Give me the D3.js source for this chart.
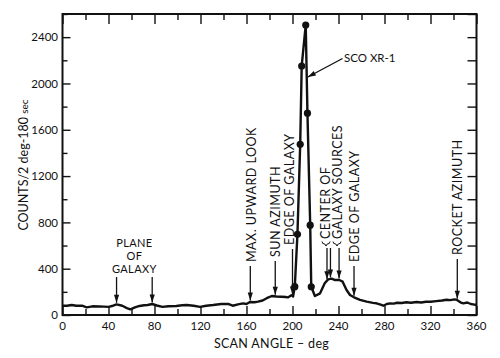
<!DOCTYPE html>
<html>
<head>
<meta charset="utf-8">
<script src="https://cdn.jsdelivr.net/npm/d3@7"></script>
<style>
  html, body { margin: 0; padding: 0; background: #fff; }
  svg { display: block; }
  text { font-family: Lato, "Noto Sans", sans-serif; fill: #111; }
</style>
</head>
<body>
<svg id="chart" width="500" height="358"></svg>
<script>
// ---- data ----
const scanAngles = [0,4,8,12,17,21,26,32,36,40,44,47,52,56,59,63,67,71,74,78,82,87,92,99,104,108,114,119.6,125,131,138,144,148,152.6,157,160,163,167,170,174,177.6,182,186,190.6,194,196,199,200.5,
  202,204.3,206.7,208,211.5,213,215.4,216.3,
  219.5,224,228,231,234,237,240.7,243.6,247,250,253.5,258.7,264.5,270,273,276,279,282,285,288,291,295,299,303,308,312,316,320,325,330,334,337,341,343,346,348.5,352,355,357,360];
const counts = [80,80,86,80,80,66,75,74,72,70,80,92,80,60,49,65,78,84,86,95,82,70,75,78,84,86,80,70,80,86,95,96,80,92,100,95,112,110,115,125,145,164,160,158,155,152,170,160,
  245,697,1475,2151,2505,1743,776,244,
  164,187,274,308,314,302,302,288,216,173,153,130,115,105,101,92,80,95,100,98,106,104,110,106,112,108,114,115,120,125,132,128,135,130,110,101,108,95,92,86];
const dotAngles = [202,204.3,206.7,208,211.5,213,215.4,216.3];

const xTicks = [0,40,80,120,160,200,240,280,320,360];
const yTicks = [0,400,800,1200,1600,2000,2400];

// annotations: vertical labels with arrows
const vLabels = ["MAX. UPWARD LOOK","SUN AZIMUTH","EDGE OF GALAXY","EDGE OF GALAXY","ROCKET AZIMUTH"];
const vLabelAngles = [163.3,185,200,253.5,343.3];
const centerLines = ["CENTER OF","GALAXY SOURCES"];
const centerArrowAngles = [230,233,240.5];
const planeLines = ["PLANE","OF","GALAXY"];
const planeArrowAngles = [47,78];
const scoLabel = "SCO XR-1";

// ---- drawing ----
const svg = d3.select("#chart");
const L = 62.5, R = 476.5, T = 14, B = 315;
const x = d3.scaleLinear().domain([0,360]).range([L,R]);
const y = d3.scaleLinear().domain([0,2600]).range([B,T]);

const pts = scanAngles.map((a,i)=>[a,counts[i]]);
const valueAt = a => {
  for (let i=1;i<pts.length;i++){
    if (a<=pts[i][0]){const [a0,c0]=pts[i-1],[a1,c1]=pts[i];return c0+(c1-c0)*(a-a0)/(a1-a0);}
  }
  return pts[pts.length-1][1];
};

// axes (ticks inward)
const gB = svg.append("g").attr("transform",`translate(0,${B})`)
  .call(d3.axisBottom(x).tickValues(d3.range(0,361,20)).tickSize(0).tickFormat(""));
const gT = svg.append("g").attr("transform",`translate(0,${T})`)
  .call(d3.axisTop(x).tickValues(d3.range(0,361,20)).tickSize(0).tickFormat(""));
const gL = svg.append("g").attr("transform",`translate(${L},0)`)
  .call(d3.axisLeft(y).tickValues(d3.range(0,2601,200)).tickSize(0).tickFormat(""));
const gR = svg.append("g").attr("transform",`translate(${R},0)`)
  .call(d3.axisRight(y).tickValues(d3.range(0,2601,200)).tickSize(0).tickFormat(""));
[gB,gT,gL,gR].forEach(g=>g.select(".domain").remove());
gB.selectAll(".tick line").attr("y2",d=>d%40===0?-9:-6).attr("stroke","#111").attr("stroke-width",1.4);
gT.selectAll(".tick line").attr("y2",d=>d%40===0?10:6).attr("stroke","#111").attr("stroke-width",1.4);
gL.selectAll(".tick line").attr("x2",d=>d%400===0?8:5).attr("stroke","#111").attr("stroke-width",1.4);
gR.selectAll(".tick line").attr("x2",-9).attr("stroke","#111").attr("stroke-width",1.4);

// tick labels
svg.append("g").selectAll("text").data(xTicks).join("text")
  .attr("x",d=>x(d)).attr("y",330).attr("text-anchor","middle")
  .attr("font-size",11.5).text(d=>d);
svg.append("g").selectAll("text").data(yTicks).join("text")
  .attr("x",58).attr("y",d=>y(d)).attr("dy","0.36em").attr("text-anchor","end")
  .attr("font-size",11.5).text(d=>d);

// frame
svg.append("rect").attr("x",L).attr("y",T).attr("width",R-L).attr("height",B-T)
  .attr("fill","none").attr("stroke","#111").attr("stroke-width",2);

// axis titles
svg.append("text").attr("x",271.5).attr("y",348).attr("text-anchor","middle")
  .attr("font-size",12.5).attr("letter-spacing",0.3).text("SCAN ANGLE – deg");
const yt = svg.append("text").attr("transform","translate(28,165) rotate(-90)")
  .attr("text-anchor","middle").attr("font-size",12.5);
yt.append("tspan").text("COUNTS/2 deg-180 ");
yt.append("tspan").attr("font-size",10).text("sec");

// data line
svg.append("path").datum(pts)
  .attr("d",d3.line().x(d=>x(d[0])).y(d=>y(d[1])))
  .attr("fill","none").attr("stroke","#111").attr("stroke-width",2.4).attr("stroke-linejoin","round");
svg.append("g").selectAll("circle").data(dotAngles).join("circle")
  .attr("cx",d=>x(d)).attr("cy",d=>y(valueAt(d))).attr("r",3.6).attr("fill","#111");

// arrow helper
function arrow(x1,y1,x2,y2){
  svg.append("line").attr("x1",x1).attr("y1",y1).attr("x2",x2).attr("y2",y2)
    .attr("stroke","#111").attr("stroke-width",1.3);
  const ang = Math.atan2(y2-y1,x2-x1), len=8, w=2.6;
  const bx = x2-len*Math.cos(ang), by = y2-len*Math.sin(ang);
  const px = -Math.sin(ang)*w, py = Math.cos(ang)*w;
  svg.append("path").attr("d",`M${x2},${y2}L${bx+px},${by+py}L${bx-px},${by-py}Z`).attr("fill","#111");
}

// vertical labels
const vX = [251,275,289,354,457];
const vBottom = [262,257,245,262,255];
vLabels.forEach((t,i)=>{
  svg.append("text").attr("transform",`translate(${vX[i]},${vBottom[i]}) rotate(-90)`)
    .attr("dy","0.36em").attr("font-size",12.5).attr("letter-spacing",0.5).text(t);
  const ax = x(vLabelAngles[i]);
  arrow(ax, vBottom[i]+4, ax, y(valueAt(vLabelAngles[i]))-1.5);
});

// center of galaxy sources
[325,337].forEach((cx,i)=>{
  svg.append("text").attr("transform",`translate(${cx},239) rotate(-90)`)
    .attr("dy","0.36em").attr("font-size",12.5).attr("letter-spacing",0.5).text(centerLines[i]);
});
// braces
[[322,330],[333,341]].forEach(([a,b])=>{
  const m=(a+b)/2;
  svg.append("path").attr("d",`M${a},241.5 Q${a},244 ${m-1.2},244 L${m},246 L${m+1.2},244 Q${b},244 ${b},241.5`)
    .attr("fill","none").attr("stroke","#111").attr("stroke-width",1);
});
centerArrowAngles.forEach(a=>{
  arrow(x(a), 248, x(a), y(valueAt(a))-1.5);
});

// plane of galaxy
planeLines.forEach((t,i)=>{
  svg.append("text").attr("x",(x(planeArrowAngles[0])+x(planeArrowAngles[1]))/2)
    .attr("y",246.5+i*13.3).attr("text-anchor","middle").attr("font-size",11).attr("letter-spacing",0.4).text(t);
});
planeArrowAngles.forEach(a=>arrow(x(a),277,x(a),y(valueAt(a))-1.5));

// SCO XR-1
svg.append("text").attr("x",344).attr("y",62).attr("font-size",11.5).text(scoLabel);
arrow(342.5,58.5,307.8,77);
</script>
</body>
</html>
